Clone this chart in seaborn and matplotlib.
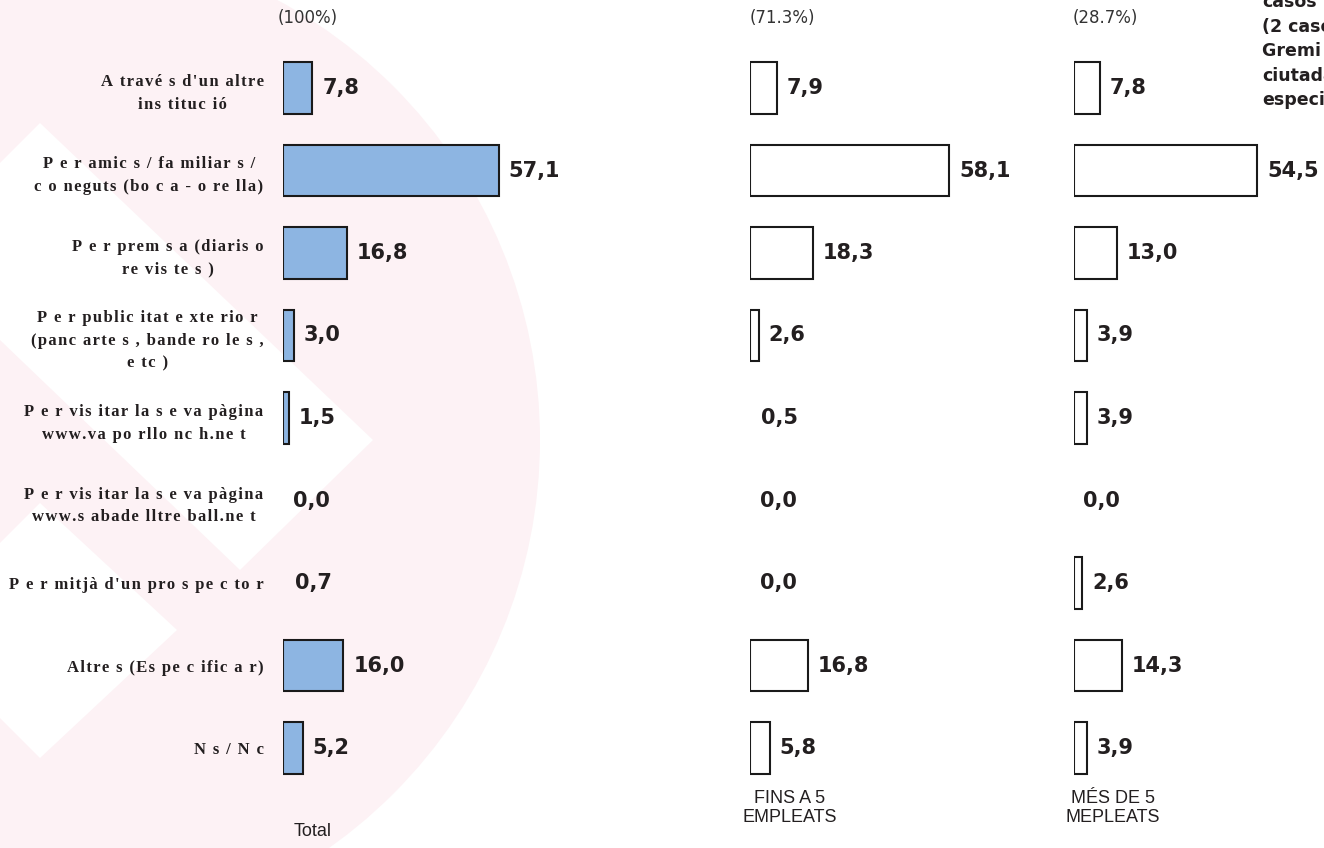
import numpy as np
import pandas as pd
import matplotlib
matplotlib.use("Agg")
import matplotlib.pyplot as plt
from matplotlib.patches import Circle, Polygon
import seaborn as sns

# survey answers (text kept as it appears in the source)
categories = [
    "A travé s d'un altre\nins tituc ió",
    "P e r amic s / fa miliar s /\nc o neguts (bo c a - o re lla)",
    "P e r prem s a (diaris o\nre vis te s )",
    "P e r public itat e xte rio r\n(panc arte s , bande ro le s ,\ne tc )",
    "P e r vis itar la s e va pàgina\nwww.va po rllo nc h.ne t",
    "P e r vis itar la s e va pàgina\nwww.s abade lltre ball.ne t",
    "P e r mitjà d'un pro s pe c to r",
    "Altre s (Es pe c ific a r)",
    "N s / N c",
]
total = [7.8, 57.1, 16.8, 3.0, 1.5, 0.0, 0.7, 16.0, 5.2]
fins_5 = [7.9, 58.1, 18.3, 2.6, 0.5, 0.0, 0.0, 16.8, 5.8]
mes_5 = [7.8, 54.5, 13.0, 3.9, 3.9, 0.0, 2.6, 14.3, 3.9]
headers = ["(100%)", "(71.3%)", "(28.7%)"]
footers = ["Total", "FINS A 5\nEMPLEATS", "MÉS DE 5\nMEPLEATS"]
side_note = ["casos", "(2 casos:", "Gremi i", "ciutadà,", "especificar"]

sns.set_style("white")
plt.rcParams['font.family'] = ['DejaVu Sans']

W, H = 1324, 848
TOP, BOT = 38.5, 797.5
INK = "#231F20"
BLUE = "#8DB5E2"


def track(s):
    # imitate the letter-spaced look of the source labels
    return "\n".join("\u200a".join(line) for line in s.split("\n"))


def fmt(v):
    return f"{v:.1f}".replace(".", ",")


fig = plt.figure(figsize=(W / 100, H / 100), dpi=100)

# faint watermark in the background
bg = fig.add_axes([0, 0, 1, 1], zorder=-5)
bg.set_xlim(0, W)
bg.set_ylim(H, 0)
bg.axis("off")
bg.add_patch(Circle((40, 440), 500, color="#FDF2F5", lw=0))
bg.add_patch(Polygon([(40, 123), (373, 440), (240, 570), (0, 340), (0, 163)], color="white", lw=0))
bg.add_patch(Polygon([(40, 503), (177, 630), (40, 758), (0, 718), (0, 543)], color="white", lw=0))

panels = [
    (283, 3.78, total, BLUE, 313, 278),
    (750, 3.43, fins_5, "white", 790, 750),
    (1073.5, 3.37, mes_5, "white", 1113, 1073),
]
xmax = 70

for k, (x0, scale, vals, fc, foot_x, head_x) in enumerate(panels):
    ax = fig.add_axes([x0 / W, (H - BOT) / H, scale * xmax / W, (BOT - TOP) / H])
    ax.set_facecolor("none")
    df = pd.DataFrame({"cat": categories, "val": vals})
    sns.barplot(data=df, x="val", y="cat", orient="h", color=fc, saturation=1,
                edgecolor="#1a1a1a", linewidth=1.5, width=0.63, ax=ax)
    for p in ax.patches:
        if p.get_width() < 1:
            p.set_visible(False)
    for i, v in enumerate(vals):
        ax.annotate(fmt(v), xy=(v, i), xytext=(7, 0), textcoords="offset points",
                    ha="left", va="center", fontsize=15, fontweight="bold", color=INK)
    ax.set_xlim(0, xmax)
    ax.set_ylim(8.6, -0.6)
    ax.set_xlabel("")
    ax.set_ylabel("")
    ax.set_xticks([])
    sns.despine(ax=ax, left=True, bottom=True)
    if k == 0:
        ax.tick_params(axis="y", length=0, pad=14)
        ax.set_yticks(range(len(categories)))
        ax.set_yticklabels([track(c) for c in categories])
        for lab in ax.get_yticklabels():
            lab.set_family(["Liberation Serif", "DejaVu Serif"])
            lab.set_fontweight("bold")
            lab.set_fontsize(12)
            lab.set_color(INK)
            lab.set_multialignment("center")
            lab.set_linespacing(1.55)
    else:
        ax.set_yticks([])

    fig.text(head_x / W, 1 - 18 / H, headers[k], ha="left", va="center",
             fontsize=12, color="#333333")
    fig.text(foot_x / W, 1 - 808 / H if k else 1 - 832 / H, footers[k],
             ha="center", va="center", fontsize=13, color=INK,
             family=["Liberation Sans", "DejaVu Sans"], linespacing=1.1)

for j, line in enumerate(side_note):
    fig.text(1262 / W, 1 - (2 + 24.5 * j) / H, line, ha="left", va="center",
             fontsize=12.5, fontweight="bold", color=INK)

fig.savefig("out.png", dpi=100)
